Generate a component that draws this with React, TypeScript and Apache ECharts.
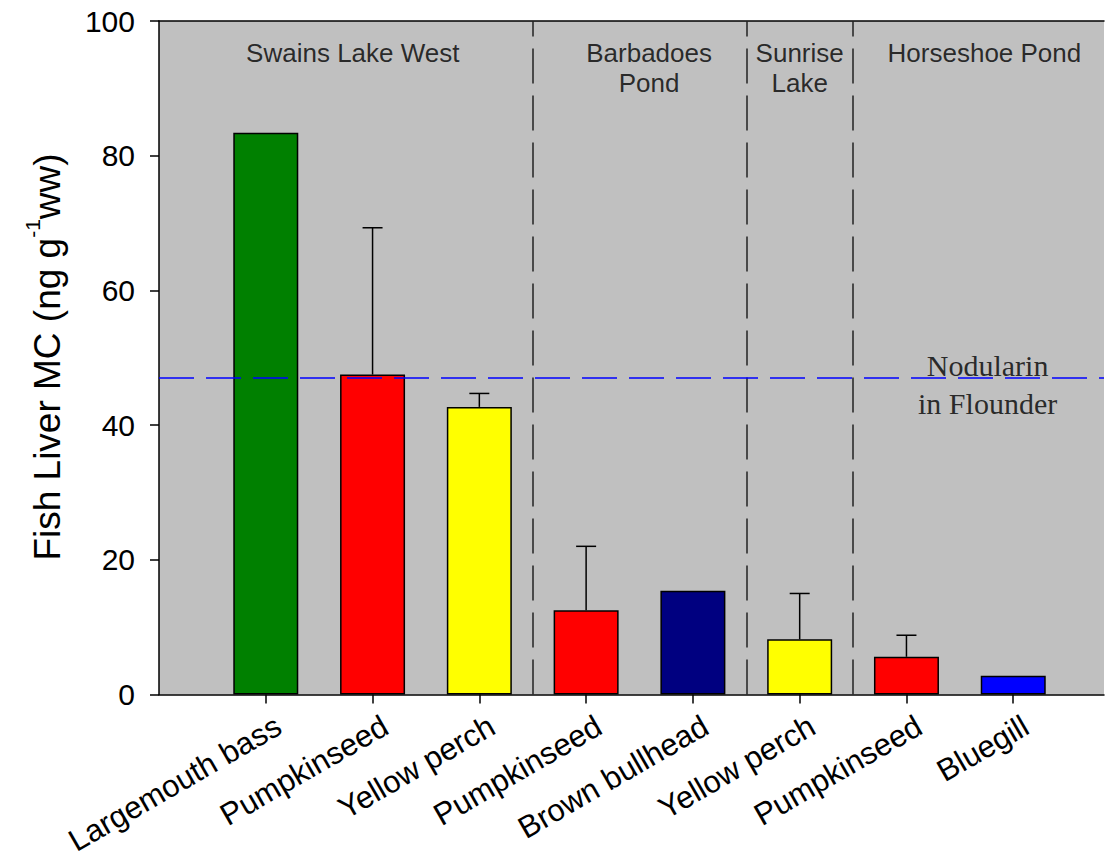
import React, { useEffect, useRef } from "react";
import * as echarts from "echarts";

// ---- data ----
const categories = [
  "Largemouth bass",
  "Pumpkinseed",
  "Yellow perch",
  "Pumpkinseed",
  "Brown bullhead",
  "Yellow perch",
  "Pumpkinseed",
  "Bluegill",
];
const positions = [1, 2, 3, 4, 5, 6, 7, 8];
const means = [83.4, 47.5, 42.7, 12.5, 15.4, 8.2, 5.6, 2.8];
const upperErrors: (number | null)[] = [null, 69.3, 44.7, 22.0, null, 15.0, 8.8, null];
const barColors = ["#008000", "#ff0000", "#ffff00", "#ff0000", "#000080", "#ffff00", "#ff0000", "#0000ff"];
const yTicks = [0, 20, 40, 60, 80, 100];
const groupNames = ["Swains Lake West", "Barbadoes\nPond", "Sunrise\nLake", "Horseshoe Pond"];
const groupPositions = [1.815, 4.59, 6.0, 7.73];
const groupLevels = [95.2, 93.0, 93.0, 95.2];
const separators = [3.5, 5.5, 6.5];
const referenceLevel = 47;
const referenceLabel = "Nodularin\nin Flounder";
const referenceLabelPos = [7.76, 46.1];

const SANS = "'Liberation Sans', Arial, sans-serif";
const SERIF = "'Liberation Serif', 'Times New Roman', serif";
const LABEL_SHIFT = 0.12; // horizontal nudge of rotated category labels (axis units)

export default function App() {
  const ref = useRef<HTMLDivElement>(null);
  useEffect(() => {
    if (!ref.current) return;
    const chart = echarts.init(ref.current, undefined, { renderer: "svg" });

    const barData = positions.map((p, i) => ({
      value: [p, means[i]],
      itemStyle: { color: barColors[i] },
    }));
    const errData = positions
      .map((p, i) => (upperErrors[i] == null ? null : [p, means[i], upperErrors[i]]))
      .filter((d) => d != null);
    const labelValues = positions.map((p) => p + LABEL_SHIFT);

    const option: any = {
      animation: false,
      backgroundColor: "#ffffff",
      grid: {
        left: 159,
        top: 21,
        width: 945,
        height: 673.5,
        show: true,
        backgroundColor: "#c0c0c0",
        borderWidth: 0,
        containLabel: false,
        outerBoundsMode: "none",
      },
      xAxis: [
        {
          type: "value",
          min: 0,
          max: 8.85,
          splitLine: { show: false },
          axisLine: { show: true, onZero: false, lineStyle: { color: "#000", width: 1.5 } },
          axisTick: {
            show: true,
            customValues: positions,
            length: 9,
            inside: false,
            lineStyle: { color: "#000", width: 1.5 },
          },
          axisLabel: {
            show: true,
            customValues: labelValues,
            formatter: (v: number) => {
              const idx = positions.indexOf(Math.round(v - LABEL_SHIFT));
              return idx >= 0 ? categories[idx] : "";
            },
            rotate: 30,
            margin: 29,
            fontSize: 31,
            fontFamily: SANS,
            color: "#000",
          },
        },
        {
          type: "value",
          position: "top",
          min: 0,
          max: 8.85,
          splitLine: { show: false },
          axisLine: { show: true, onZero: false, lineStyle: { color: "#000", width: 1.5 } },
          axisTick: { show: false },
          axisLabel: { show: false },
        },
      ],
      yAxis: {
        type: "value",
        min: yTicks[0],
        max: yTicks[yTicks.length - 1],
        interval: 20,
        splitLine: { show: false },
        axisLine: { show: true, lineStyle: { color: "#000", width: 1.5 } },
        axisTick: { show: true, length: 9, lineStyle: { color: "#000", width: 1.5 } },
        axisLabel: { margin: 24, fontSize: 30, fontFamily: SANS, color: "#000" },
      },
      graphic: [
        {
          type: "text",
          x: 44,
          y: 357,
          rotation: Math.PI / 2,
          style: {
            text: "{m|Fish Liver MC (ng g}{s|-1}{m|ww)}",
            align: "center",
            verticalAlign: "middle",
            fill: "#000",
            rich: {
              m: { fontSize: 37, fontFamily: SANS, fill: "#000", lineHeight: 44, verticalAlign: "bottom" },
              s: { fontSize: 21, fontFamily: SANS, fill: "#000", lineHeight: 22, verticalAlign: "top" },
            },
          },
        },
      ],
      series: [
        {
          type: "bar",
          xAxisIndex: 0,
          data: barData,
          barWidth: 65,
          itemStyle: { borderColor: "#000", borderWidth: 1.5 },
          markLine: {
            silent: true,
            symbol: ["none", "none"],
            label: { show: false },
            data: [
              ...separators.map((s) => ({
                xAxis: s,
                lineStyle: { color: "#222", width: 1.5, type: [35, 12] },
              })),
              {
                yAxis: referenceLevel,
                lineStyle: { color: "#0000ff", width: 1.5, type: [35, 12] },
              },
            ],
          },
          z: 2,
        },
        {
          type: "custom",
          xAxisIndex: 0,
          data: errData,
          encode: { x: 0, y: [1, 2] },
          z: 3,
          renderItem: (params: any, api: any) => {
            const x = api.value(0);
            const top = api.value(1);
            const err = api.value(2);
            const p0 = api.coord([x, top]);
            const p1 = api.coord([x, err]);
            return {
              type: "group",
              children: [
                {
                  type: "line",
                  shape: { x1: p0[0], y1: p0[1], x2: p1[0], y2: p1[1] },
                  style: { stroke: "#000", lineWidth: 1.5 },
                },
                {
                  type: "line",
                  shape: { x1: p1[0] - 10, y1: p1[1], x2: p1[0] + 10, y2: p1[1] },
                  style: { stroke: "#000", lineWidth: 1.5 },
                },
              ],
            };
          },
        },
        {
          type: "scatter",
          xAxisIndex: 0,
          symbolSize: 1,
          itemStyle: { color: "rgba(0,0,0,0)" },
          data: groupNames.map((n, i) => ({ name: n, value: [groupPositions[i], groupLevels[i]] })),
          label: {
            show: true,
            position: "inside",
            formatter: (p: any) => p.name,
            fontSize: 26,
            lineHeight: 30,
            fontFamily: SANS,
            color: "#000",
            align: "center",
          },
          z: 4,
        },
        {
          type: "scatter",
          xAxisIndex: 0,
          symbolSize: 1,
          itemStyle: { color: "rgba(0,0,0,0)" },
          data: [{ name: referenceLabel, value: referenceLabelPos }],
          label: {
            show: true,
            position: "inside",
            formatter: (p: any) => p.name,
            fontSize: 30,
            lineHeight: 38,
            fontFamily: SERIF,
            color: "#000",
            align: "center",
          },
          z: 4,
        },
      ],
    };
    chart.setOption(option);
    return () => chart.dispose();
  }, []);
  return (
    <div
      ref={ref}
      style={{ position: "absolute", left: 0, top: 0, width: 1105, height: 860 }}
    />
  );
}
